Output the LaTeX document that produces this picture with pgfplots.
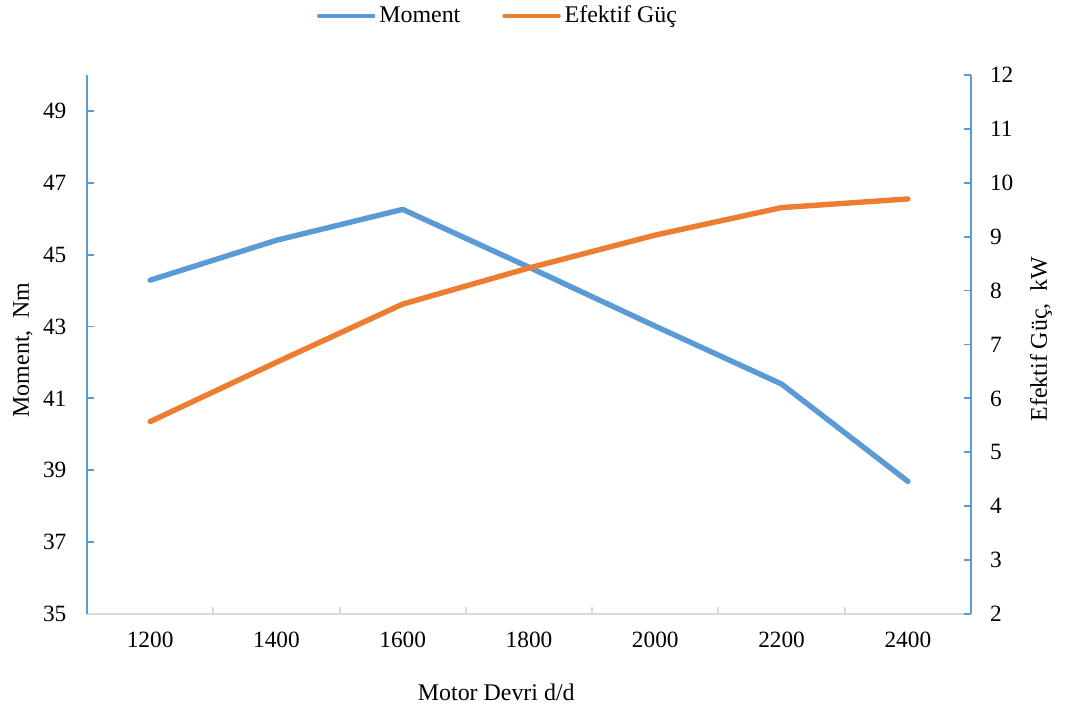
\documentclass[border=0pt]{standalone}
\usepackage{fontspec}
\setmainfont{Liberation Serif}
\usepackage{pgfplots}
\pgfplotsset{compat=1.18}
\definecolor{mblue}{HTML}{5B9BD5}
\definecolor{morange}{HTML}{ED7D31}
\definecolor{axgray}{HTML}{D9D9D9}
\tikzset{labfont/.style={font=\fontsize{12}{14}\selectfont}}

\begin{document}
\begin{tikzpicture}
\path[use as bounding box] (-43.5bp,-47.5bp) rectangle (492.5bp,307bp);
\pgfplotsset{
  base/.style={scale only axis, width=442bp, height=269.5bp,
    xmin=-0.5, xmax=6.5,
    tick align=inside, major tick length=3.5bp, clip=false,
    tick label style={font=\fontsize{11.7}{13}\selectfont}},
  serie/.style={line width=2.7bp, line cap=round, line join=round},
}
% torque, left axis
\begin{axis}[base, ymin=35, ymax=50,
  axis x line*=bottom, axis y line*=left,
  x axis line style={draw=axgray, line width=1bp},
  y axis line style={draw=mblue, line width=0.9bp},
  xtick={0,...,6}, xticklabels={1200,1400,1600,1800,2000,2200,2400},
  major x tick style={draw=none},
  minor xtick={0.5,1.5,...,5.5}, minor tick length=3.5bp,
  minor x tick style={draw=axgray, line width=1bp},
  xticklabel style={yshift=-5.3bp},
  ytick={35,37,...,49}, yticklabels={35,37,39,41,43,45,47,49},
  major y tick style={draw=mblue, line width=0.9bp},
  yticklabel style={xshift=-6.8bp},
  xlabel={Motor Devri d/d}, ylabel={Moment,\ \ Nm},
  every axis x label/.style={at={(axis description cs:0.463,-0.1447)}, anchor=center, labfont},
  every axis y label/.style={at={(axis description cs:-0.0724,0.49)}, anchor=center, rotate=90, labfont},
]
\addplot[mblue, serie] coordinates {
  (0,44.29) (1,45.40) (2,46.26) (3,44.65) (4,43.01) (5,41.40) (6,38.69)
};
\end{axis}
% effective power, right axis
\begin{axis}[base, ymin=2, ymax=12,
  axis x line=none, axis y line*=right,
  y axis line style={draw=mblue, line width=0.9bp},
  ytick={2,...,12}, yticklabels={2,3,4,5,6,7,8,9,10,11,12},
  major y tick style={draw=mblue, line width=0.9bp},
  yticklabel style={xshift=6bp},
  ylabel={Efektif Güç,\ \ kW},
  every axis y label/.style={at={(axis description cs:1.0792,0.51)}, anchor=center, rotate=90, labfont},
  legend style={at={(axis description cs:0.466,1.1095)}, anchor=center,
    draw=none, fill=none, legend columns=2,
    font=\fontsize{12}{14}\selectfont,
    /tikz/every even column/.append style={column sep=19bp}},
  legend image code/.code={\draw[#1, line width=2.2bp, line cap=round] (0bp,0bp) -- (27bp,0bp);},
]
\addlegendimage{mblue}
\addlegendentry{Moment}
\addplot[morange, serie] coordinates {
  (0,5.57) (1,6.67) (2,7.75) (3,8.42) (4,9.03) (5,9.54) (6,9.70)
};
\addlegendentry{Efektif Güç}
\end{axis}
\end{tikzpicture}
\end{document}
